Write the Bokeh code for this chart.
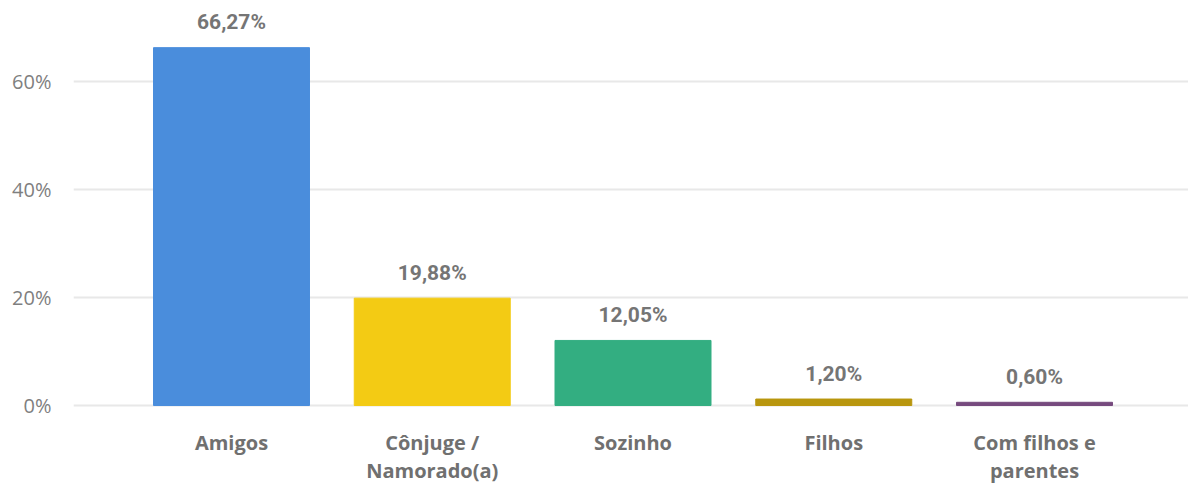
from bokeh.plotting import figure
from bokeh.models import ColumnDataSource, FixedTicker
from bokeh.embed import file_html
from bokeh.resources import INLINE
from bokeh.core.properties import value

categories = ["Amigos", "Cônjuge /\nNamorado(a)", "Sozinho", "Filhos", "Com filhos e\nparentes"]
values = [66.27, 19.88, 12.05, 1.20, 0.60]
value_labels = ["66,27%", "19,88%", "12,05%", "1,20%", "0,60%"]
colors = ["#4A8DDC", "#F3CB14", "#33AE81", "#B8960E", "#764A7E"]
y_ticks = [0, 20, 40, 60]
y_tick_labels = ["0%", "20%", "40%", "60%"]

xs = list(range(len(categories)))
line1 = [c.split("\n")[0] for c in categories]
line2 = [c.split("\n")[1] if "\n" in c else "" for c in categories]

src = ColumnDataSource(dict(x=xs, top=values, color=colors, lab=value_labels,
                            ly=[v + 4.7 for v in values]))
cat_src = ColumnDataSource(dict(x=xs, y1=[-6.8] * len(xs), y2=[-12.1] * len(xs), t1=line1, t2=line2))

p = figure(width=1188, height=485, output_backend="svg", toolbar_location=None,
           x_range=(-0.787, 4.767), y_range=(-14.81, 73.15),
           min_border_left=73, min_border_right=0, min_border_top=10, min_border_bottom=0)
p.outline_line_color = None
p.background_fill_color = "white"
p.border_fill_color = "white"

p.vbar(x="x", top="top", bottom=0, width=0.777, color="color", source=src)
p.text(x="x", y="ly", text="lab", source=src, text_align="center", text_baseline="middle",
       text_font=value("Roboto"), text_font_style="bold",
       text_font_size="21px", text_color="#757575")
for col in ("1", "2"):
    p.text(x="x", y="y" + col, text="t" + col, source=cat_src, text_align="center",
           text_baseline="middle", text_font=value("Open Sans"), text_font_style="bold",
           text_font_size="20px", text_color="#707070")

p.xgrid.grid_line_color = None
p.ygrid.grid_line_color = "#E8E8E8"
p.ygrid.grid_line_width = 2
p.ygrid.ticker = FixedTicker(ticks=y_ticks)

p.yaxis.ticker = FixedTicker(ticks=y_ticks)
p.yaxis.major_label_overrides = {t: l for t, l in zip(y_ticks, y_tick_labels)}
p.yaxis.axis_line_color = None
p.yaxis.major_tick_line_color = None
p.yaxis.minor_tick_line_color = None
p.yaxis.major_label_text_font = "Open Sans"
p.yaxis.major_label_text_font_size = "20px"
p.yaxis.major_label_text_color = "#7F7F7F"
p.yaxis.major_label_standoff = 16

p.xaxis.visible = False

open("out.html", "w").write(file_html(p, INLINE))
